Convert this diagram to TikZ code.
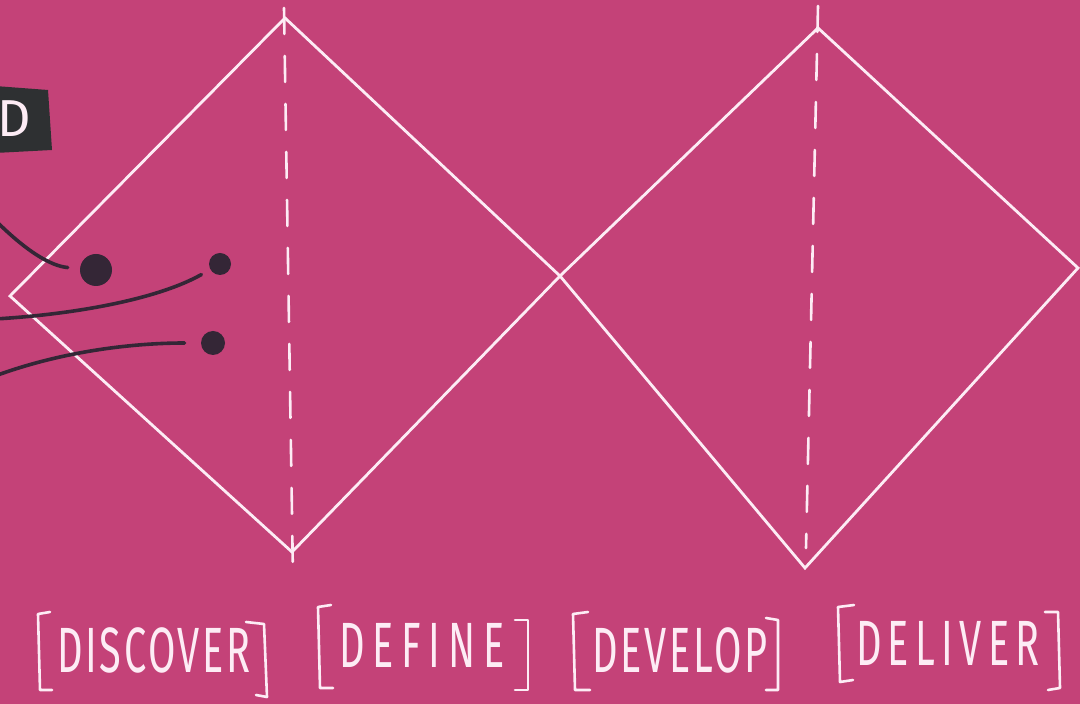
\documentclass[tikz,border=0pt]{standalone}
\usepackage{fontspec}
\newfontfamily\handfont[FakeStretch=0.62]{Fira Sans}
\newfontfamily\tagfont{Fira Sans}
\usepackage{xcolor}
\usetikzlibrary{positioning,calc}
\definecolor{bgpink}{RGB}{196,66,120}
\definecolor{chalk}{RGB}{253,236,245}
\definecolor{ink}{RGB}{52,38,54}
\definecolor{tagdark}{RGB}{46,48,50}

\begin{document}
\begin{tikzpicture}[
    x=0.5pt, y=-0.5pt,
    line/.style={draw=chalk, line width=1.4pt, line join=miter},
    midline/.style={draw=chalk, line width=1.3pt, dash pattern=on 13pt off 11pt, line cap=round},
    bracket/.style={draw=chalk, line width=1.3pt, line cap=round, line join=round},
    phase/.style={text=chalk, inner sep=0pt,
      font=\handfont\fontsize{32}{32}\selectfont\addfontfeature{LetterSpace=#1}},
    dot/.style={circle, fill=ink, inner sep=0pt, minimum size=#1},
    wire/.style={draw=ink, line width=1.8pt, line cap=round}
  ]
    \fill[bgpink] (0,0) rectangle (1080,704);
    \useasboundingbox (0,0) rectangle (1080,704);
    \clip (0,0) rectangle (1080,704);

    % the two diamonds
    \coordinate (l1) at (10,296);
    \coordinate (t1) at (285,18);
    \coordinate (mid) at (560,276);
    \coordinate (b1) at (292,552);
    \coordinate (t2) at (818,28);
    \coordinate (r2) at (1078,268);
    \coordinate (b2) at (805,568);
    \draw[line] (l1) -- (t1) -- (mid) -- (t2) -- (r2) -- (b2) -- (mid) -- (b1) -- cycle;

    % middle dashed lines
    \coordinate (d1a) at (284,8);
    \coordinate (d1b) at (293,578);
    \coordinate (d2a) at (818,6);
    \coordinate (d2b) at (806,548);
    \draw[midline] (d1a) -- (d1b);
    \draw[midline] (d2a) -- (d2b);

    % dark tag
    \fill[tagdark] (-5,86) -- (48,90) -- (52,150) -- (-5,153) -- cycle;
    \node[text=chalk, font=\tagfont\fontsize{26}{26}\selectfont, inner sep=0pt] (tag) at (14,119) {D};

    % dots and wires
    \node[dot=16] (p1) at (96,270) {};
    \node[dot=11] (p2) at (220,264) {};
    \node[dot=12] (p3) at (213,343) {};
    \coordinate (w1) at (-5,220);
    \coordinate (w2) at (-5,319);
    \coordinate (w3) at (-5,376);
    \draw[wire, shorten >=6pt] (w1) .. controls (25,250) and (50,266) .. (p1);
    \draw[wire, shorten >=5pt] (w2) .. controls (80,314) and (160,298) .. (p2);
    \draw[wire, shorten >=8pt] (w3) .. controls (60,352) and (130,343) .. (p3);

    % phase labels
    \node[phase=4] (dis) at (154,650) {DISCOVER};
    \node[phase=12] (dfn) at (422,645) {DEFINE};
    \node[phase=4.5] (dev) at (680,650) {DEVELOP};
    \node[phase=10] (dlv) at (948,643) {DELIVER};

    \draw[bracket] (50,612) -- (38,614) -- (40,690) -- (52,690);
    \draw[bracket] (246,622) -- (264,624) -- (267,697) -- (256,695);
    \draw[bracket] (331,605) -- (318,607) -- (320,688) -- (333,688);
    \draw[bracket] (515,620) -- (528,620) -- (528,690) -- (515,690);
    \draw[bracket] (588,612) -- (573,614) -- (575,690) -- (590,690);
    \draw[bracket] (766,618) -- (778,620) -- (778,690) -- (766,690);
    \draw[bracket] (854,605) -- (838,607) -- (840,682) -- (853,680);
    \draw[bracket] (1045,612) -- (1058,612) -- (1060,688) -- (1048,690);
  \end{tikzpicture}
\end{document}
